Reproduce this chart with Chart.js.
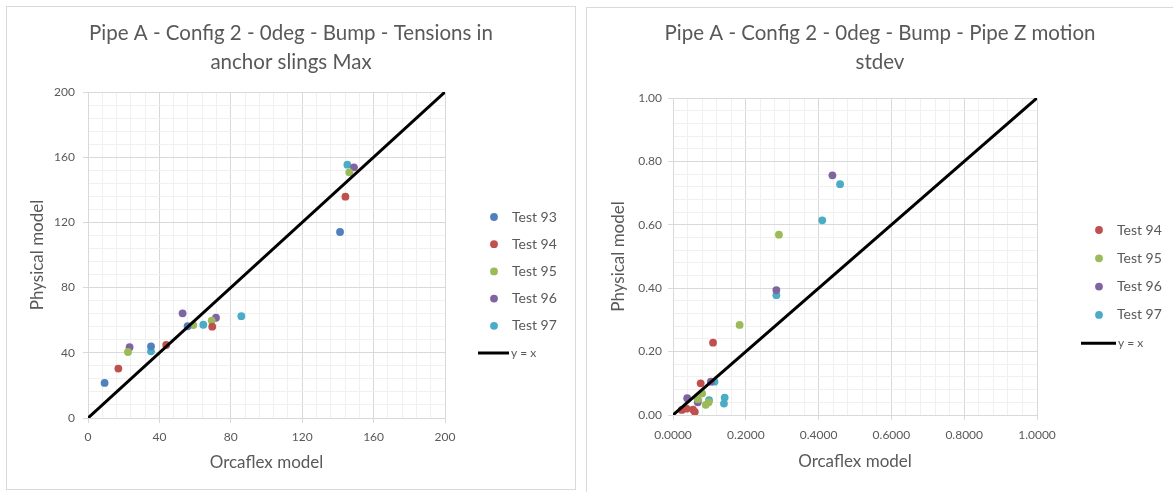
<!DOCTYPE html>
<html>
<head>
<meta charset="utf-8">
<script src="https://cdn.jsdelivr.net/npm/chart.js@4.4.1/dist/chart.umd.min.js"></script>
<style>
  html, body { margin: 0; padding: 0; background: #fff; overflow: hidden; }
  body { width: 1173px; height: 492px; position: relative; }
  .box { position: absolute; box-sizing: border-box; background: #fff; }
  #boxA { left: 6px; top: 6px; width: 570px; height: 484px; border: 1px solid #d9d9d9; }
  #boxB { left: 586px; top: 7px; width: 600px; height: 492px; border-top: 1px solid #d9d9d9; border-left: 1px solid #d9d9d9; }
  canvas { position: absolute; left: 0; top: 0; }
</style>
</head>
<body>
<div class="box" id="boxA"><canvas id="tension" width="568" height="482"></canvas></div>
<div class="box" id="boxB"><canvas id="motion" width="586" height="484"></canvas></div>
<script>
// ---- Tensions in anchor slings, max (Orcaflex x, physical y) ----
const tensionTests = ['Test 93', 'Test 94', 'Test 95', 'Test 96', 'Test 97'];
const tensionOrcaflex93 = [9.3, 35.3, 55.8, 141.2];
const tensionPhysical93 = [21.5, 44.0, 56.3, 114.1];
const tensionOrcaflex94 = [17.0, 43.8, 69.6, 144.2];
const tensionPhysical94 = [30.3, 44.8, 56.0, 135.8];
const tensionOrcaflex95 = [22.4, 59.0, 69.3, 146.4];
const tensionPhysical95 = [40.5, 57.0, 59.8, 150.7];
const tensionOrcaflex96 = [23.3, 53.0, 71.7, 149.0];
const tensionPhysical96 = [43.4, 64.2, 61.5, 153.8];
const tensionOrcaflex97 = [35.3, 64.6, 85.9, 145.3];
const tensionPhysical97 = [40.9, 57.2, 62.5, 155.4];

// ---- Pipe Z motion, stdev (Orcaflex x, physical y) ----
const motionTests = ['Test 94', 'Test 95', 'Test 96', 'Test 97'];
const motionOrcaflex94 = [0.024, 0.037, 0.055, 0.060, 0.076, 0.110];
const motionPhysical94 = [0.016, 0.020, 0.017, 0.010, 0.100, 0.228];
const motionOrcaflex95 = [0.068, 0.080, 0.090, 0.098, 0.183, 0.291];
const motionPhysical95 = [0.050, 0.068, 0.032, 0.040, 0.284, 0.569];
const motionOrcaflex96 = [0.039, 0.068, 0.068, 0.104, 0.284, 0.438];
const motionPhysical96 = [0.053, 0.048, 0.040, 0.105, 0.394, 0.756];
const motionOrcaflex97 = [0.099, 0.114, 0.140, 0.142, 0.284, 0.410, 0.459];
const motionPhysical97 = [0.047, 0.105, 0.036, 0.055, 0.378, 0.614, 0.728];

// Axis ranges and tick spacing
const tensionAxis = { min: 0, max: 200, major: 40, minor: 8 };
const motionAxis = { min: 0, max: 1, major: 0.2, minor: 0.04 };

const FONT = 'Lato, "Open Sans", sans-serif';
const TEXT = '#595959';
const MAJOR_GRID = '#d9d9d9';
const MINOR_GRID = '#f0f0f0';
const seriesColors = {
  'Test 93': '#4f81bd',
  'Test 94': '#c0504d',
  'Test 95': '#9bbb59',
  'Test 96': '#8064a2',
  'Test 97': '#4bacc6'
};

function points(xs, ys) { return xs.map((x, i) => ({ x: x, y: ys[i] })); }

function scatterSet(label, xs, ys) {
  return {
    label: label,
    data: points(xs, ys),
    backgroundColor: seriesColors[label],
    borderColor: seriesColors[label],
    borderWidth: 0,
    pointRadius: 3.9,
    showLine: false,
    order: 1
  };
}

function identitySet(axis) {
  return {
    label: 'y = x',
    data: [{ x: axis.min, y: axis.min }, { x: axis.max, y: axis.max }],
    showLine: true,
    borderColor: '#000',
    borderWidth: 3,
    pointRadius: 0,
    order: -1
  };
}

// Legend drawn in the space right of the plot
const sideLegend = {
  id: 'sideLegend',
  afterDraw(chart, args, o) {
    const ctx = chart.ctx;
    ctx.save();
    ctx.textBaseline = 'middle';
    ctx.textAlign = 'left';
    chart.data.datasets.forEach((ds, i) => {
      const y = o.top + i * o.gap;
      if (ds.showLine) {
        ctx.strokeStyle = ds.borderColor;
        ctx.lineWidth = ds.borderWidth;
        ctx.beginPath();
        ctx.moveTo(o.lineStart, y);
        ctx.lineTo(o.lineEnd, y);
        ctx.stroke();
        ctx.font = o.lineFontSize + 'px ' + FONT;
        ctx.fillStyle = TEXT;
        ctx.fillText(ds.label, o.lineEnd + 2, y);
      } else {
        ctx.fillStyle = ds.backgroundColor;
        ctx.beginPath();
        ctx.arc(o.markerX, y, ds.pointRadius, 0, Math.PI * 2);
        ctx.fill();
        ctx.font = o.fontSize + 'px ' + FONT;
        ctx.fillStyle = TEXT;
        ctx.fillText(ds.label, o.textX, y);
      }
    });
    ctx.restore();
  }
};

function isMajor(v, axis) {
  const r = v / axis.major;
  return Math.abs(r - Math.round(r)) < 1e-6;
}

function axisOptions(axis, cfg) {
  return {
    type: 'linear',
    position: cfg.position,
    min: axis.min,
    max: axis.max,
    afterFit(scale) {
      if (cfg.position === 'left') scale.width = cfg.size; else scale.height = cfg.size;
    },
    ticks: {
      stepSize: axis.minor,
      autoSkip: false,
      maxRotation: 0,
      padding: cfg.tickPad,
      color: TEXT,
      font: { family: FONT, size: 12 },
      callback: (v) => isMajor(v, axis) ? cfg.format(v) : ''
    },
    grid: {
      color: (c) => isMajor(c.tick.value, axis) ? MAJOR_GRID : MINOR_GRID,
      tickColor: (c) => isMajor(c.tick.value, axis) ? MAJOR_GRID : 'rgba(0,0,0,0)',
      tickLength: 5,
      lineWidth: 1
    },
    border: { color: MAJOR_GRID },
    title: {
      display: true,
      text: cfg.title,
      color: TEXT,
      font: { family: FONT, size: 17 },
      padding: cfg.titlePad
    }
  };
}

// Empty right-hand axis that only reserves room for the legend
function legendSpace(width) {
  return {
    type: 'linear',
    position: 'right',
    display: true,
    afterFit(scale) { scale.width = width; },
    grid: { display: false, drawTicks: false },
    ticks: { display: false },
    border: { display: false }
  };
}

function makeChart(id, cfg) {
  return new Chart(document.getElementById(id), {
    type: 'scatter',
    data: { datasets: cfg.datasets },
    options: {
      responsive: false,
      animation: false,
      events: [],
      layout: { padding: { left: 0, right: 0, top: 0, bottom: 10 } },
      plugins: {
        legend: { display: false },
        tooltip: { enabled: false },
        title: {
          display: true,
          text: cfg.title,
          color: TEXT,
          font: { family: FONT, size: 20.5, weight: 'normal', lineHeight: cfg.titleLine + 'px' },
          padding: cfg.titlePad
        },
        sideLegend: cfg.legend
      },
      scales: {
        x: axisOptions(cfg.axis, cfg.x),
        y: axisOptions(cfg.axis, cfg.y),
        legendArea: legendSpace(cfg.legendWidth)
      }
    },
    plugins: [sideLegend]
  });
}

makeChart('tension', {
  title: ['Pipe A - Config 2 - 0deg - Bump - Tensions in', 'anchor slings Max'],
  titleLine: 29,
  titlePad: { top: 11.5, bottom: 15.5 },
  legendWidth: 130,
  axis: tensionAxis,
  datasets: [
    scatterSet(tensionTests[0], tensionOrcaflex93, tensionPhysical93),
    scatterSet(tensionTests[1], tensionOrcaflex94, tensionPhysical94),
    scatterSet(tensionTests[2], tensionOrcaflex95, tensionPhysical95),
    scatterSet(tensionTests[3], tensionOrcaflex96, tensionPhysical96),
    scatterSet(tensionTests[4], tensionOrcaflex97, tensionPhysical97),
    identitySet(tensionAxis)
  ],
  x: { position: 'bottom', size: 61, tickPad: 7, title: 'Orcaflex model', titlePad: { top: 4, bottom: 6 }, format: (v) => String(Math.round(v)) },
  y: { position: 'left', size: 81, tickPad: 8, title: 'Physical model', titlePad: { top: 20, bottom: 4 }, format: (v) => String(Math.round(v)) },
  legend: { top: 210, gap: 27.2, markerX: 487, textX: 505, lineStart: 471, lineEnd: 502, fontSize: 14, lineFontSize: 12 }
});

makeChart('motion', {
  title: ['Pipe A - Config 2 - 0deg - Bump - Pipe Z motion', 'stdev'],
  titleLine: 29.5,
  titlePad: { top: 10.25, bottom: 20.75 },
  legendWidth: 136,
  axis: motionAxis,
  datasets: [
    scatterSet(motionTests[0], motionOrcaflex94, motionPhysical94),
    scatterSet(motionTests[1], motionOrcaflex95, motionPhysical95),
    scatterSet(motionTests[2], motionOrcaflex96, motionPhysical96),
    scatterSet(motionTests[3], motionOrcaflex97, motionPhysical97),
    identitySet(motionAxis)
  ],
  x: { position: 'bottom', size: 67, tickPad: 7.8, title: 'Orcaflex model', titlePad: { top: 4, bottom: 10 }, format: (v) => v.toFixed(4) },
  y: { position: 'left', size: 86, tickPad: 6, title: 'Physical model', titlePad: { top: 21, bottom: 4 }, format: (v) => v.toFixed(2) },
  legend: { top: 222, gap: 28.3, markerX: 512, textX: 530, lineStart: 494, lineEnd: 529, fontSize: 14, lineFontSize: 12 }
});
</script>
</body>
</html>
